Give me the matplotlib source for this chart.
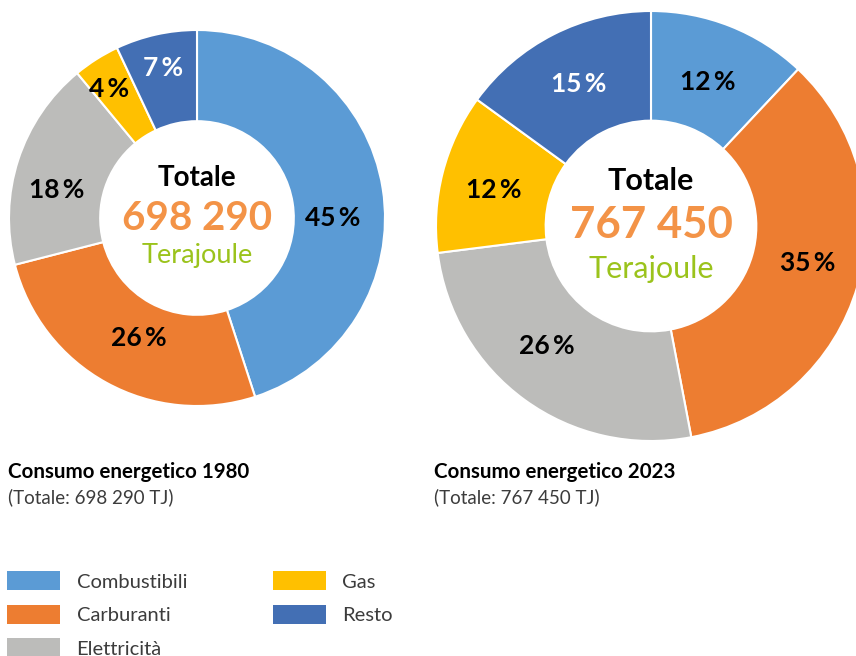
import matplotlib
matplotlib.use("Agg")
import numpy as np
import matplotlib.pyplot as plt
from matplotlib.patches import Patch

plt.rcParams['font.family'] = ['Lato', 'DejaVu Sans']

# data
categories = ['Combustibili', 'Carburanti', 'Elettricità', 'Gas', 'Resto']
colors = ['#5B9BD5', '#ED7D31', '#BCBCBA', '#FFC000', '#436FB4']
share_1980 = [45, 26, 18, 4, 7]
share_2023 = [12, 35, 26, 12, 15]
total_1980 = '698 290'
total_2023 = '767 450'
label_colors_1980 = ['black', 'black', 'black', 'black', 'white']
label_colors_2023 = ['black', 'black', 'black', 'black', 'white']

# label placement (radius fraction, angle tweak in degrees)
lab_r_1980 = [0.72, 0.71, 0.76, 0.83, 0.82]
lab_dang_1980 = [-9, 3, 6.5, 2, 0]
lab_r_2023 = [0.72, 0.75, 0.74, 0.75, 0.74]
lab_dang_2023 = [0, 3, -5, 1.5, 0]

W, H = 856, 656
fig = plt.figure(figsize=(W / 100, H / 100), dpi=100)


def px_axes(cx, cy, r):
    # axes box in pixel coords (top-left origin) around a donut of radius r
    return fig.add_axes([(cx - r) / W, 1 - (cy + r) / H, 2 * r / W, 2 * r / H])


def donut(ax, vals, lcols, lr, lda, total, fs, dy, ring):
    wedges, _ = ax.pie(vals, colors=colors, startangle=90, counterclock=False, radius=1.0,
                       wedgeprops=dict(width=ring, edgecolor='white', linewidth=1.5))
    for w, v, c, r, da in zip(wedges, vals, lcols, lr, lda):
        ang = np.deg2rad((w.theta1 + w.theta2) / 2 + da)
        ax.text(r * np.cos(ang), r * np.sin(ang), f'{v}\u2009%', ha='center', va='center',
                fontsize=fs[0], fontweight='bold', color=c)
    ax.text(0, dy[0], 'Totale', ha='center', va='center', fontsize=fs[1], fontweight='bold', color='black')
    ax.text(0, dy[1], total, ha='center', va='center', fontsize=fs[2], fontweight='bold', color='#F39347')
    ax.text(0, dy[2], 'Terajoule', ha='center', va='center', fontsize=fs[3], color='#9BC31C')
    ax.set_xlim(-1, 1)
    ax.set_ylim(-1, 1)
    ax.set_aspect('equal')
    ax.axis('off')


ax1 = px_axes(197, 218, 188)
donut(ax1, share_1980, label_colors_1980, lab_r_1980, lab_dang_1980, total_1980,
      (19, 20, 29, 19.5), (0.215, -0.005, -0.2), 0.485)

ax2 = px_axes(651, 226, 215)
donut(ax2, share_2023, label_colors_2023, lab_r_2023, lab_dang_2023, total_2023,
      (19, 22, 31.5, 22), (0.21, 0.005, -0.2), 0.51)

# titles under the donuts
tcol = '#3C3C3C'
fig.text(8 / W, 1 - 472 / H, 'Consumo energetico 1980', fontsize=14.8, fontweight='bold', va='center')
fig.text(8 / W, 1 - 497 / H, '(Totale: 698 290 TJ)', fontsize=13.5, color=tcol, va='center')
fig.text(434 / W, 1 - 472 / H, 'Consumo energetico 2023', fontsize=14.8, fontweight='bold', va='center')
fig.text(434 / W, 1 - 497 / H, '(Totale: 767 450 TJ)', fontsize=13.5, color=tcol, va='center')

handles = [Patch(facecolor=c, edgecolor='none') for c in colors]
leg = fig.legend(handles, categories, ncol=2, loc='upper left',
                 bbox_to_anchor=(-7 / W, 1 - 557 / H), frameon=False,
                 prop=dict(size=14.5), handlelength=2.65, handleheight=1.1,
                 handletextpad=0.8, labelspacing=0.7, columnspacing=4.25, borderpad=0.2)
for t in leg.get_texts():
    t.set_color(tcol)

fig.savefig('out.png', dpi=100)
